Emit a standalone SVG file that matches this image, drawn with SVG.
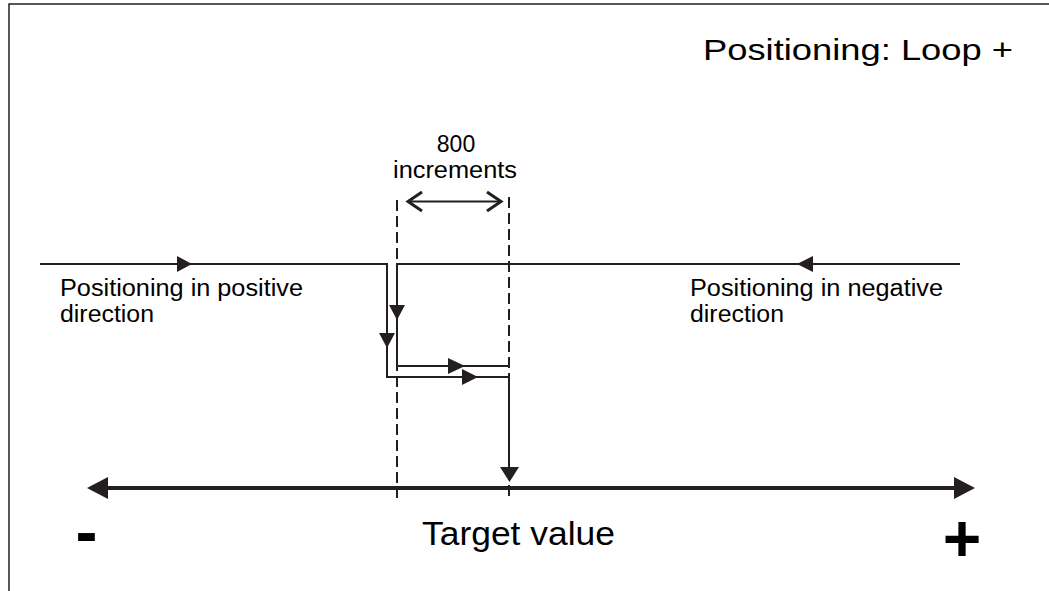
<svg xmlns="http://www.w3.org/2000/svg" width="1049" height="591" viewBox="0 0 1049 591">
  <style>
    .ln { fill: none; stroke: #231f20; stroke-width: 2; }
    .dash { fill: none; stroke: #231f20; stroke-width: 2; stroke-dasharray: 11 5; }
    .axis { fill: none; stroke: #231f20; stroke-width: 4; }
    .head { fill: #231f20; stroke: none; }
    .t { font-family: "Liberation Sans", Arial, sans-serif; fill: #000; }
    .tb { font-family: "Liberation Sans", Arial, sans-serif; font-weight: bold; fill: #000; }
  </style>
  <rect x="0" y="0" width="1049" height="591" fill="#fff"/>
  <path d="M9,591 V4 H1049" fill="none" stroke="#222" stroke-width="1.5"/>

  <g id="title">
    <text class="t" x="703" y="60" font-size="30" textLength="310" lengthAdjust="spacingAndGlyphs">Positioning: Loop +</text>
  </g>

  <g id="label-increments">
    <text class="t" x="456" y="152" font-size="23" text-anchor="middle">800</text>
    <text class="t" x="393" y="178" font-size="23" textLength="124" lengthAdjust="spacingAndGlyphs">increments</text>
  </g>

  <g id="label-positive">
    <text class="t" x="60" y="296" font-size="23" textLength="243" lengthAdjust="spacingAndGlyphs">Positioning in positive</text>
    <text class="t" x="60" y="322" font-size="23" textLength="94" lengthAdjust="spacingAndGlyphs">direction</text>
  </g>

  <g id="label-negative">
    <text class="t" x="690" y="296" font-size="23" textLength="253" lengthAdjust="spacingAndGlyphs">Positioning in negative</text>
    <text class="t" x="690" y="322" font-size="23" textLength="94" lengthAdjust="spacingAndGlyphs">direction</text>
  </g>

  <g id="axis-labels">
    <text class="t" x="422" y="545" font-size="33" textLength="193" lengthAdjust="spacingAndGlyphs">Target value</text>
    <text class="tb" x="86.5" y="554" font-size="66" text-anchor="middle">-</text>
    <text class="tb" x="962" y="561" font-size="66" text-anchor="middle">+</text>
  </g>

  <g id="connectors">
    <line class="dash" x1="397" y1="200" x2="397" y2="498"/>
    <line class="dash" x1="509" y1="197" x2="509" y2="498"/>

    <line class="ln" x1="408" y1="201.5" x2="501" y2="201.5" stroke-width="2.5"/>
    <polyline points="422,192 408,201.5 422,211" fill="none" stroke="#231f20" stroke-width="3"/>
    <polyline points="487,192 501,201.5 487,211" fill="none" stroke="#231f20" stroke-width="3"/>

    <path class="ln" d="M40,264 H387 V377 H509"/>
    <polygon class="head" points="177,256 192,264 177,272"/>
    <polygon class="head" points="379,333 395,333 387,348"/>
    <polygon class="head" points="462,369 478,377 462,385"/>

    <path class="ln" d="M960,264 H397 V366 H509"/>
    <polygon class="head" points="813,256 797,264 813,272"/>
    <polygon class="head" points="389,305 405,305 397,320"/>
    <polygon class="head" points="448,358 465,366 448,374"/>

    <line class="ln" x1="509" y1="377" x2="509" y2="470"/>
    <polygon class="head" points="500,467 519,467 509.5,482"/>

    <line class="axis" x1="105" y1="488" x2="957" y2="488"/>
    <polygon class="head" points="108,477 87,488 108,499"/>
    <polygon class="head" points="954,477 975,488 954,499"/>
  </g>
</svg>
